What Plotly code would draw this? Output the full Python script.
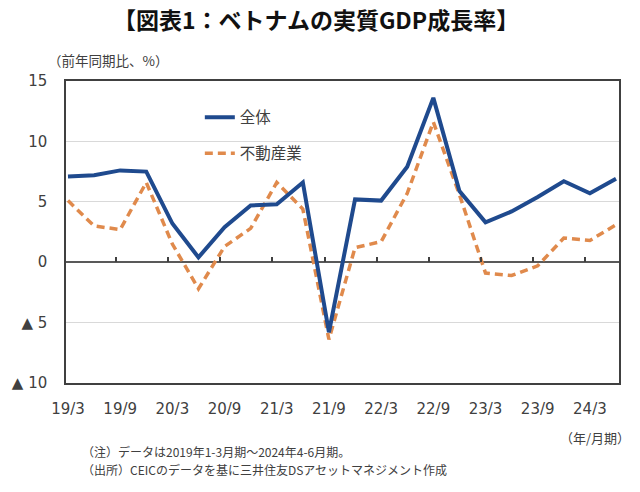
import plotly.graph_objects as go

quarters = ["19/3", "19/6", "19/9", "19/12", "20/3", "20/6", "20/9", "20/12",
            "21/3", "21/6", "21/9", "21/12", "22/3", "22/6", "22/9", "22/12",
            "23/3", "23/6", "23/9", "23/12", "24/3", "24/6"]
total = [7.1, 7.2, 7.6, 7.5, 3.2, 0.4, 2.9, 4.7,
         4.8, 6.6, -5.8, 5.2, 5.1, 7.9, 13.6, 5.9,
         3.3, 4.2, 5.4, 6.7, 5.7, 6.9]
real_estate = [5.1, 3.0, 2.7, 6.6, 1.5, -2.2, 1.3, 2.8,
               6.6, 4.4, -6.4, 1.2, 1.7, 5.7, 11.6, 5.6,
               -0.9, -1.1, -0.3, 2.0, 1.8, 3.1]
tick_labels = quarters[::2]
ytick_vals = [-10, -5, 0, 5, 10, 15]
ytick_text = ["▲ 10", "▲ 5", "0", "5", "10", "15"]

idx = list(range(len(quarters)))
tick_idx = idx[::2]

JP = "Noto Sans CJK JP"
NUM = "DejaVu Sans, Noto Sans CJK JP"
BLUE = "#1f4a8e"
ORANGE = "#e08a4c"

fig = go.Figure()
fig.add_trace(go.Scatter(x=idx, y=total, name="全体", mode="lines",
                         line=dict(color=BLUE, width=4),
                         xaxis="x2", yaxis="y", legendgroup="a"))
fig.add_trace(go.Scatter(x=idx, y=real_estate, name="不動産業", mode="lines",
                         line=dict(color=ORANGE, width=3.5, dash="8px,5px"),
                         legendgroup="b"))

xr = [-0.076, 21.115]
fig.update_layout(
    width=640, height=492,
    margin=dict(l=64, r=21, t=81, b=109),
    paper_bgcolor="white", plot_bgcolor="white",
    font=dict(family=JP, color="#404040"),
    showlegend=True,
    legend=dict(x=0.242, y=0.935, xanchor="left", yanchor="top",
                font=dict(family=JP, size=15.5, color="#404040"),
                bgcolor="rgba(0,0,0,0)", tracegroupgap=13, traceorder="grouped"),
    xaxis=dict(range=xr, tickmode="array", tickvals=tick_idx, ticktext=tick_labels,
               showgrid=False, zeroline=False, ticks="",
               showline=True, mirror=True, linecolor="#404040", linewidth=1.5,
               tickfont=dict(family=NUM, size=15, color="#404040"),
               ticklabelstandoff=11),
    xaxis2=dict(range=xr, overlaying="x", anchor="free", position=0.4,
                tickmode="array", tickvals=[2 * j - 0.17 for j in range(1, 11)],
                showticklabels=False, ticks="inside", ticklen=5, tickwidth=1.5,
                tickcolor="#404040", showgrid=False, zeroline=False, showline=False),
    yaxis=dict(range=[-10, 15], tickmode="array", tickvals=ytick_vals, ticktext=ytick_text,
               showgrid=True, gridcolor="#d9d9d9", gridwidth=1,
               zeroline=True, zerolinecolor="#595959", zerolinewidth=2,
               showline=True, mirror=True, linecolor="#404040", linewidth=1.5,
               ticks="", tickfont=dict(family=NUM, size=15, color="#404040"),
               ticklabelstandoff=14),
)

annotations = [
    dict(text="<b>【図表1：ベトナムの実質GDP成長率】</b>", x=0.452, y=1.205,
         xanchor="center", yanchor="middle", font=dict(family=JP, size=23, color="#111111")),
    dict(text="（前年同期比、%）", x=-0.036, y=1.07, xanchor="left", yanchor="middle",
         font=dict(family=JP, size=13.5, color="#404040")),
    dict(text="（年/月期）", x=1.024, y=-0.179, xanchor="right", yanchor="middle",
         font=dict(family=JP, size=13, color="#404040")),
    dict(text="（注）データは2019年1-3月期～2024年4-6月期。", x=0.026, y=-0.228,
         xanchor="left", yanchor="middle", font=dict(family=JP, size=12, color="#404040")),
    dict(text="（出所）CEICのデータを基に三井住友DSアセットマネジメント作成", x=0.026, y=-0.288,
         xanchor="left", yanchor="middle", font=dict(family=JP, size=12, color="#404040")),
]
for a in annotations:
    a.update(xref="paper", yref="paper", showarrow=False)
fig.update_layout(annotations=annotations)

fig.write_html("out.html", config={"displayModeBar": False},
               post_script="document.body.style.margin='0';document.body.style.overflow='hidden';")
